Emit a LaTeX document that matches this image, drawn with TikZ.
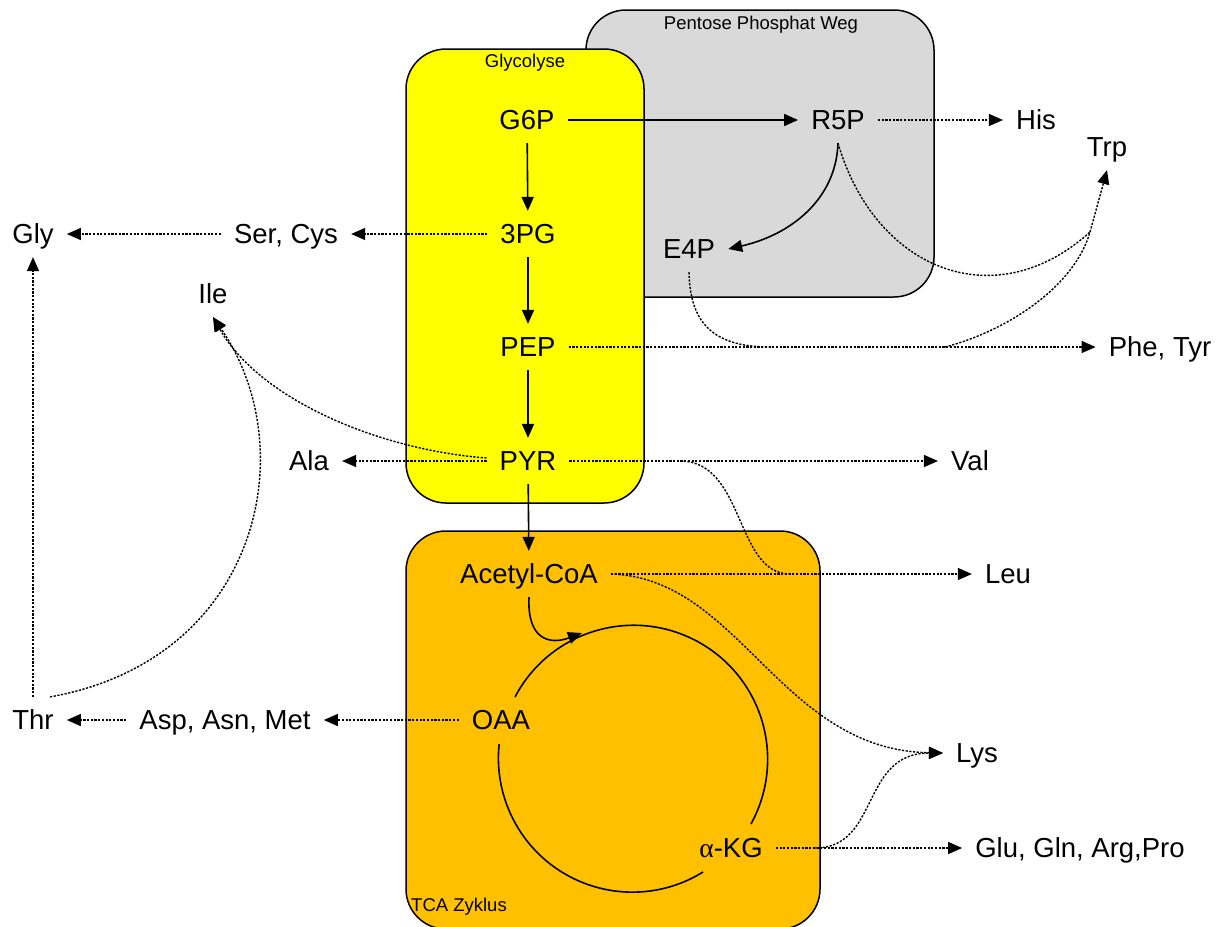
\documentclass[tikz,border=0pt]{standalone}
\usepackage{fontspec}
\setmainfont{Liberation Sans}
\newfontfamily\grk{Liberation Serif}
\usetikzlibrary{arrows.meta,calc}
\definecolor{pppgray}{HTML}{D9D9D9}
\definecolor{glyyellow}{HTML}{FFFF00}
\definecolor{tcaorange}{HTML}{FFC000}
\begin{document}
\begin{tikzpicture}[x=1pt,y=-1pt,
  lbl/.style={font=\fontsize{27.5}{30}\selectfont, text height=19.8pt, text depth=0pt, inner xsep=13pt, inner ysep=13pt},
  small/.style={font=\fontsize{18.5}{20}\selectfont, inner sep=0pt},
  box/.style={draw=black, line width=1.5pt, rounded corners=40pt},
  solidarr/.style={line width=1.6pt, -{Triangle[length=14pt,width=12pt]}},
  solidln/.style={line width=1.6pt},
  dotln/.style={line width=1.4pt, dash pattern=on 2.2pt off 1.5pt},
  dotarr/.style={dotln, -{Triangle[length=14pt,width=12pt]}},
]
\useasboundingbox (0,0) rectangle (1225,926);
\fill[white] (0,0) rectangle (1225,926);

% boxes
\draw[box, fill=pppgray] (586,10) rectangle (934,297);
\draw[box, fill=glyyellow] (406,49) rectangle (644,503);
\draw[box, fill=tcaorange] (406,531) rectangle (820,929);
\node[small] (pppl) at (761,25) {Pentose Phosphat Weg};
\node[small] (glyl) at (525,63) {Glycolyse};
\node[small, anchor=west] (tcal) at (411,907) {TCA Zyklus};

% metabolites
\node[lbl] (g6p) at (527,120) {G6P};
\node[lbl] (r5p) at (838,120) {R5P};
\node[lbl] (his) at (1036,120) {His};
\node[lbl] (trp) at (1107,147) {Trp};
\node[lbl] (pg3) at (528,234) {3PG};
\node[lbl] (sercys) at (286,234) {Ser, Cys};
\node[lbl] (gly) at (33,234) {Gly};
\node[lbl] (e4p) at (689,249) {E4P};
\node[lbl] (ile) at (213,294) {Ile};
\node[lbl] (pep) at (528,347) {PEP};
\node[lbl] (phetyr) at (1160,347) {Phe, Tyr};
\node[lbl] (pyr) at (528,461) {PYR};
\node[lbl] (ala) at (309,461) {Ala};
\node[lbl] (val) at (970,461) {Val};
\node[lbl] (acoa) at (529,574) {Acetyl-CoA};
\node[lbl] (leu) at (1008,574) {Leu};
\node[lbl] (oaa) at (501,720) {OAA};
\node[lbl] (aspasn) at (225,720) {Asp, Asn, Met};
\node[lbl] (thr) at (33,720) {Thr};
\node[lbl] (lys) at (977,753) {Lys};
\node[lbl] (akg) at (731,848) {{\grk α}-KG};
\node[lbl] (glu) at (1080,848) {Glu, Gln, Arg,Pro};

% junctions
\coordinate (trpj) at (1090,232);
\coordinate (e4pj) at (770,347);
\coordinate (pepj) at (945,347);
\coordinate (pyrj) at (680,461);
\coordinate (leuj) at (790,574);
\coordinate (akgj) at (815,848);
\coordinate (cyctip) at (582,633);

% glycolysis
\draw[solidarr] (g6p) -- (r5p);
\draw[solidarr] (g6p) -- (pg3);
\draw[solidarr] (pg3) -- (pep);
\draw[solidarr] (pep) -- (pyr);
\draw[solidarr] (pyr) -- (acoa);
\draw[solidarr] (r5p.south) .. controls (836,200) and (790,235) .. (e4p.east);

% PPP outputs
\draw[dotarr] (r5p) -- (his);
\draw[dotln] (r5p.south) .. controls (875,270) and (995,318) .. (trpj);
\draw[dotarr] (trpj) -- (trp.south);
\draw[dotarr] (pep) -- (phetyr);
\draw[dotln] (e4p.south) .. controls (690,320) and (710,347) .. (e4pj);
\draw[dotln] (pepj) .. controls (1010,330) and (1075,285) .. (trpj);

% left outputs
\draw[dotarr] (pg3) -- (sercys);
\draw[dotarr] (sercys) -- (gly);
\draw[dotarr] (thr) -- (gly);
\draw[dotarr] ([xshift=17pt]thr.north) .. controls (258,660) and (305,450) .. (ile.south);
\draw[dotarr] ([yshift=3pt]pyr.west) .. controls (380,450) and (260,400) .. (ile.south);
\draw[dotarr] (pyr) -- (ala);
\draw[dotarr] (oaa) -- (aspasn);
\draw[dotarr] (aspasn) -- (thr);

% right outputs
\draw[dotarr] (pyr) -- (val);
\draw[dotln] (pyrj) .. controls (745,461) and (735,574) .. (leuj);
\draw[dotarr] (acoa) -- (leu);
\draw[dotarr] (acoa.east) .. controls (740,578) and (780,750) .. (lys.west);
\draw[dotarr] (akg) -- (glu);
\draw[dotarr] (akgj) .. controls (880,848) and (860,753) .. (lys.west);

% TCA cycle
\draw[solidarr] (acoa.south) .. controls (527,640) and (550,645) .. (cyctip);
\draw[solidln] (515,697) arc[start angle=207.7, end angle=388.9, radius=134];
\draw[solidln] (703,872) arc[start angle=58.2, end angle=186, radius=134];
\end{tikzpicture}
\end{document}
